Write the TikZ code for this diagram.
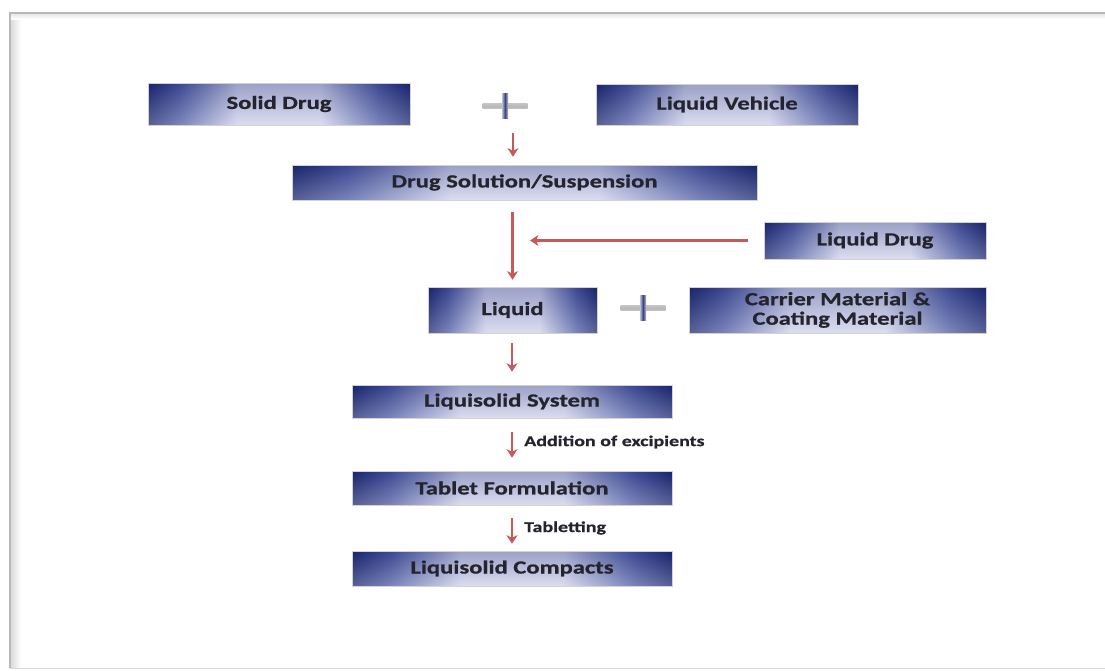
\documentclass[tikz,border=0pt]{standalone}
\usepackage{fontspec}
\newfontfamily\boxfont[FakeStretch=1.33, BoldFeatures={FakeBold=0.8}]{Carlito}
\usetikzlibrary{arrows.meta}
\definecolor{bnavy}{RGB}{24,36,108}
\definecolor{bmid}{RGB}{72,86,160}
\definecolor{blight}{RGB}{206,209,235}
\definecolor{arr}{RGB}{198,90,90}
\definecolor{txt}{RGB}{36,36,46}
\pgfdeclarehorizontalshading{boxsh}{100bp}{color(0bp)=(bnavy); color(25bp)=(bnavy); color(31bp)=(bmid); color(42bp)=(blight); color(58bp)=(blight); color(69bp)=(bmid); color(75bp)=(bnavy); color(100bp)=(bnavy)}
\tikzset{
  box/.style={shade, shading=boxsh, draw=gray!35, line width=0.6pt, inner sep=0pt,
    text=txt, font=\boxfont\bfseries\fontsize{18.5}{19.5}\selectfont,
    path picture={\shade[top color=bnavy, bottom color=white, opacity=0.28]
      (path picture bounding box.south west) rectangle (path picture bounding box.north east);}},
  plussign/.style={minimum width=48pt, minimum height=28pt, inner sep=0pt,
    path picture={
      \shade[top color=gray!12, bottom color=gray!18, middle color=gray!55]
        ([xshift=-22.5pt,yshift=-2.5pt]path picture bounding box.center) rectangle ([xshift=22.5pt,yshift=2.5pt]path picture bounding box.center);
      \shade[left color=bnavy!30, right color=bnavy!30, middle color=bnavy!85]
        ([xshift=-3pt,yshift=-12.5pt]path picture bounding box.center) rectangle ([xshift=3pt,yshift=12.5pt]path picture bounding box.center);}},
  conn/.style={draw=arr, line width=2.4pt, -{Stealth[length=8.5pt, width=11pt, inset=2.5pt]}},
  lbl/.style={inner sep=0pt, text=txt, font=\boxfont\bfseries\fontsize{15}{16}\selectfont}
}
\begin{document}
\begin{tikzpicture}[x=1pt,y=-1pt]
\useasboundingbox (0,0) rectangle (1105,670);
\fill[white] (0,0) rectangle (1105,670);
% frame
\shade[left color=gray!30, right color=white] (10,13) rectangle (21,668);
\shade[top color=gray!22, bottom color=white] (10,13) rectangle (1105,19);
\draw[gray!55, line width=1.5pt] (1105,13) -- (10,13) -- (10,668);
\draw[gray!30, line width=1pt] (10,668) -- (1105,668);

% nodes
\node[box, minimum width=262pt, minimum height=42pt] (solid) at (279,104) {Solid Drug};
\node[plussign] (plus1) at (505,106) {};
\node[box, minimum width=262pt, minimum height=41pt] (vehicle) at (727,104.5) {Liquid Vehicle};
\node[box, minimum width=465pt, minimum height=35pt] (dss) at (524.5,182.5) {Drug Solution/Suspension};
\node[box, minimum width=222pt, minimum height=37pt] (ldrug) at (875,240.5) {Liquid Drug};
\node[box, minimum width=169pt, minimum height=46pt] (liquid) at (512.5,310) {Liquid};
\node[plussign] (plus2) at (643,308) {};
\node[box, minimum width=297pt, minimum height=46pt, align=center] (carrier) at (837.5,310) {Carrier Material \&\\Coating Material};
\node[box, minimum width=320pt, minimum height=33pt] (ls) at (512,401.5) {Liquisolid System};
\node[box, minimum width=320pt, minimum height=34pt] (tf) at (512,488) {Tablet Formulation};
\node[box, minimum width=320pt, minimum height=35pt] (lc) at (512,568.5) {Liquisolid Compacts};
\coordinate (join) at (530,240.5);

% connectors
\draw[conn, shorten <=13pt, shorten >=8pt] ([xshift=8pt]plus1.south) -- ([xshift=8pt]plus1.south |- dss.north);
\draw[conn, shorten <=12pt, shorten >=7pt] (dss.south -| liquid.north) -- (liquid.north);
\draw[conn, shorten <=16pt] (ldrug.west) -- (join);
\draw[conn, shorten <=10pt, shorten >=13pt] (liquid.south -| ls.north) -- (ls.north);
\draw[conn, shorten <=14pt, shorten >=13pt] (ls.south) -- (tf.north)
  node[lbl, midway, anchor=west, xshift=11pt, yshift=2.5pt] {Addition of excipients};
\draw[conn, shorten <=13pt, shorten >=7pt] (tf.south) -- (lc.north)
  node[lbl, midway, anchor=west, xshift=11pt] {Tabletting};
\end{tikzpicture}
\end{document}
